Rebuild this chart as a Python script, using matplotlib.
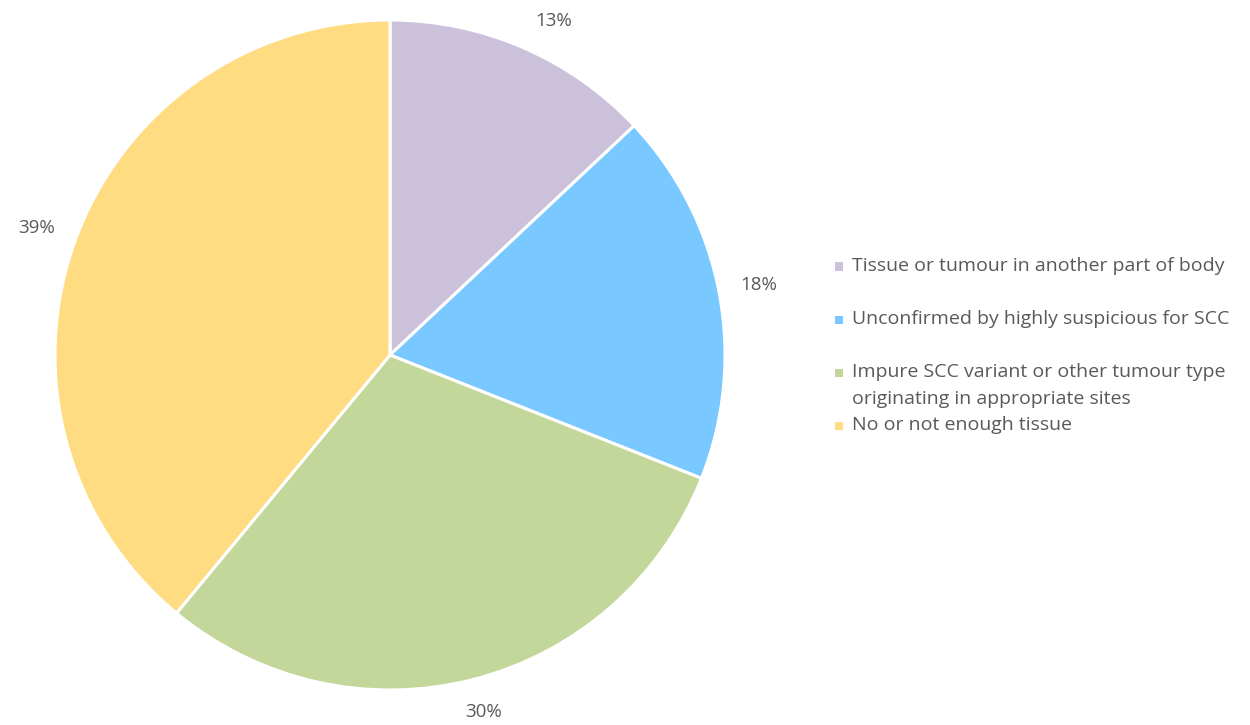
import matplotlib.pyplot as plt
from matplotlib.patches import Rectangle

labels = [
    "Tissue or tumour in another part of body",
    "Unconfirmed by highly suspicious for SCC",
    "Impure SCC variant or other tumour type\noriginating in appropriate sites",
    "No or not enough tissue",
]
shares = [13, 18, 30, 39]
colors = ["#CCC1DA", "#79C8FF", "#C4D79B", "#FFDC82"]

TEXT = "#595959"
plt.rcParams["font.family"] = ["Open Sans", "DejaVu Sans"]

W, H = 1250, 725
fig = plt.figure(figsize=(12.5, 7.25), dpi=100)

# pie centre (390, 355) px, radius 335 px
cx, cy, r = 390, 355, 335
ax = fig.add_axes([(cx - r) / W, (H - cy - r) / H, 2 * r / W, 2 * r / H])
wedges, _, pcts = ax.pie(
    shares,
    colors=colors,
    startangle=90,
    counterclock=False,
    autopct="%d%%",
    pctdistance=1.12,
    wedgeprops=dict(edgecolor="white", linewidth=2.2),
    textprops=dict(color=TEXT, fontsize=13.5),
)
# small nudges so the labels sit where the original puts them
for t, (dx, dy) in zip(pcts, [(0.045, -0.03), (0.0, 0.0), (0.0, 0.02), (0.0, 0.0)]):
    x0, y0 = t.get_position()
    t.set_position((x0 + dx, y0 + dy))
ax.set_xlim(-1, 1)
ax.set_ylim(-1, 1)
ax.set_aspect("equal")

# hand-placed legend (rows are not evenly spaced in the original)
row_y = [266, 319, 372, 425]
for lab, col, y in zip(labels, colors, row_y):
    fig.add_artist(Rectangle((835 / W, (H - y - 4.5) / H), 8 / W, 8 / H,
                             transform=fig.transFigure, facecolor=col,
                             edgecolor="none"))
    for k, line in enumerate(lab.split("\n")):
        fig.text(852 / W, (H - y - 27 * k) / H, line, color=TEXT,
                 fontsize=14, va="center", ha="left")

fig.savefig("out.png", dpi=100)
